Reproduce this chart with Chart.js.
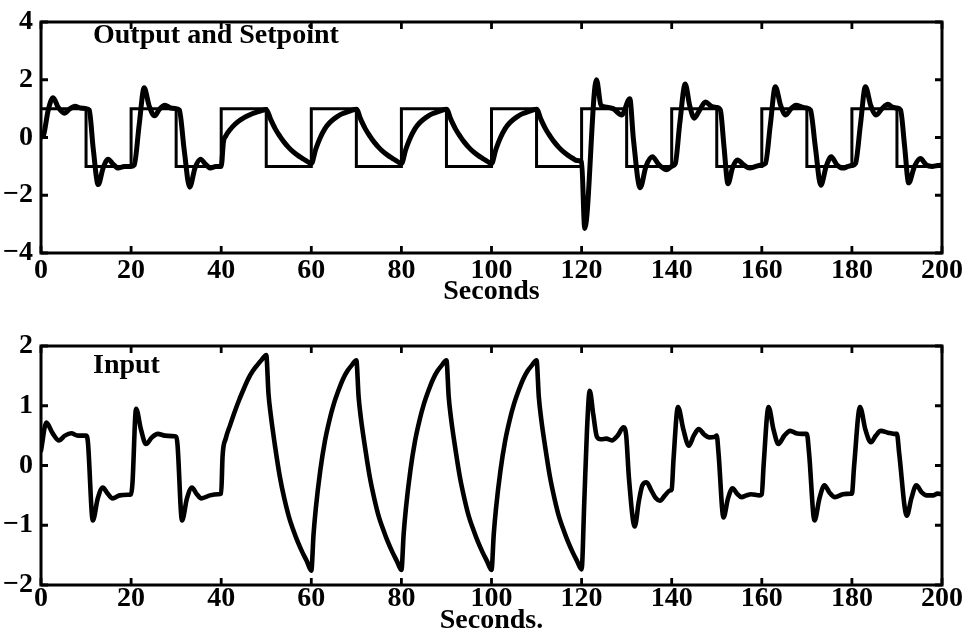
<!DOCTYPE html>
<html>
<head>
<meta charset="utf-8">
<script src="https://cdn.jsdelivr.net/npm/chart.js@4.4.1/dist/chart.umd.min.js"></script>
<style>
html,body{margin:0;padding:0;background:#fff;}
body{width:972px;height:635px;position:relative;overflow:hidden;}
canvas{position:absolute;left:0;}
#c1{top:0;}
#c2{top:320px;}
.lbl{position:absolute;font-family:"Liberation Serif","Times New Roman",serif;font-weight:bold;font-size:28px;line-height:28px;color:#000;white-space:nowrap;}
</style>
</head>
<body>
<canvas id="c1" width="972" height="320"></canvas>
<canvas id="c2" width="972" height="315"></canvas>
<div class="lbl" style="left:93px;top:20px;">Output and Setpoint</div>
<div class="lbl" style="left:93px;top:350px;">Input</div>
<script>
// ---------- tick labels / axis text ----------
const xTickValues = [0, 20, 40, 60, 80, 100, 120, 140, 160, 180, 200];
const yTicksTop = [-4, -2, 0, 2, 4];
const yTicksBottom = [-2, -1, 0, 1, 2];
const xTitleTop = 'Seconds';
const xTitleBottom = 'Seconds.';

// ---------- setpoint (square wave, value after each switching time) ----------
const setpointTime  = [0, 10, 20, 30, 40, 50, 60, 70, 80, 90, 100, 110, 120, 130, 140, 150, 160, 170, 180, 190, 200];
const setpointValue = [1, -1, 1, -1, 1, -1, 1, -1, 1, -1, 1, -1, 1, -1, 1, -1, 1, -1, 1, -1, -1];

// ---------- output ----------
const outputTime = [
  0, 0.6, 1.6, 2.7, 3.8, 5.2, 6.3, 7.5, 8.8, 10,
  10.7, 11.6, 12.7, 13.8, 14.9, 16, 17.1, 18.5, 20,
  20.7, 21.8, 22.9, 24, 25.2, 26.3, 27.5, 28.8, 30,
  30.7, 31.8, 33, 34.2, 35.4, 36.5, 37.6, 38.8, 40,
  40.5, 41, 42, 43, 44, 45, 46, 47, 48, 49, 50,
  51, 52, 53, 54, 55, 56, 57, 58, 59, 60,
  61, 62, 63, 64, 65, 66, 67, 68, 69, 70,
  71, 72, 73, 74, 75, 76, 77, 78, 79, 80,
  81, 82, 83, 84, 85, 86, 87, 88, 89, 90,
  91, 92, 93, 94, 95, 96, 97, 98, 99, 100,
  101, 102, 103, 104, 105, 106, 107, 108, 109, 110,
  111, 112, 113, 114, 115, 116, 117, 118, 119, 120,
  120.7, 123.3, 124.3, 125.5, 127, 128.9, 130.7, 131.5, 133, 134.3, 135.7, 137.2, 138.9, 140,
  140.8, 141.8, 143, 144, 145, 146.2, 147.5, 148.8, 150,
  150.8, 151.6, 152.5, 153.5, 154.6, 156, 157.3, 158.7, 160,
  160.8, 161.9, 163, 164.2, 165.3, 166.5, 167.6, 169, 170,
  170.8, 171.9, 173.1, 174.3, 175.4, 176.7, 178, 179.2, 180,
  180.8, 181.9, 183, 184.2, 185.4, 186.7, 188, 189, 190,
  190.8, 191.7, 192.6, 193.9, 195.2, 196.5, 197.8, 199, 200
];
const outputValue = [
  0, 0.1, 0.95, 1.38, 1.05, 0.84, 0.98, 1.08, 1.02, 1.0,
  0.95, -0.4, -1.63, -1.05, -0.75, -0.92, -1.06, -1.0, -1.0,
  -0.95, 0.45, 1.72, 1.1, 0.75, 0.98, 1.12, 1.02, 1.0,
  0.95, -0.45, -1.72, -1.05, -0.75, -0.92, -1.06, -1.0, -1.0,
  -0.15, 0.05, 0.28, 0.45, 0.58, 0.68, 0.76, 0.83, 0.89, 0.93, 0.97,
  0.62, 0.3, 0.05, -0.17, -0.35, -0.5, -0.62, -0.72, -0.82, -0.9,
  -0.4, 0.0, 0.3, 0.5, 0.64, 0.75, 0.83, 0.89, 0.94, 0.98,
  0.62, 0.3, 0.05, -0.17, -0.35, -0.5, -0.62, -0.72, -0.82, -0.9,
  -0.4, 0.0, 0.3, 0.5, 0.64, 0.75, 0.83, 0.89, 0.94, 0.98,
  0.62, 0.3, 0.05, -0.17, -0.35, -0.5, -0.62, -0.72, -0.82, -0.9,
  -0.4, 0.0, 0.3, 0.5, 0.64, 0.75, 0.83, 0.89, 0.94, 0.98,
  0.62, 0.3, 0.05, -0.17, -0.35, -0.5, -0.62, -0.72, -0.8, -0.85,
  -3.15, 2.0, 1.12, 1.05, 1.0, 0.78, 1.34, -0.05, -1.74, -1.0, -0.67, -0.95, -1.12, -1.0,
  -0.9, 0.5, 1.85, 1.1, 0.67, 0.95, 1.23, 1.08, 1.04,
  0.95, -0.3, -1.6, -1.05, -0.78, -0.95, -1.06, -1.0, -0.95,
  -0.9, 0.45, 1.76, 1.1, 0.78, 1.0, 1.12, 1.05, 1.02,
  0.95, -0.35, -1.65, -1.0, -0.67, -0.95, -1.06, -1.0, -0.97,
  -0.9, 0.45, 1.76, 1.1, 0.78, 1.0, 1.15, 1.05, 1.02,
  0.95, -0.3, -1.57, -1.0, -0.73, -0.95, -1.0, -0.97, -0.95
];

// ---------- input ----------
const inputTime = [
  0, 1.2, 2.5, 4, 5.3, 6.7, 8.2, 10,
  10.4, 11.5, 12.6, 13.7, 14.8, 15.9, 17.5, 19.3, 20,
  20.3, 21.1, 22.2, 23.3, 24.6, 25.9, 27.5, 29.6, 30,
  30.3, 31.3, 32.4, 33.5, 34.6, 35.6, 37.5, 39.3, 40,
  40.3, 41, 42, 43, 44, 45, 46, 47, 48, 49, 50,
  50.5, 51, 52, 53, 54, 55, 56, 57, 58, 59, 60,
  60.5, 61, 62, 63, 64, 65, 66, 67, 68, 69, 70,
  70.5, 71, 72, 73, 74, 75, 76, 77, 78, 79, 80,
  80.5, 81, 82, 83, 84, 85, 86, 87, 88, 89, 90,
  90.5, 91, 92, 93, 94, 95, 96, 97, 98, 99, 100,
  100.5, 101, 102, 103, 104, 105, 106, 107, 108, 109, 110,
  110.5, 111, 112, 113, 114, 115, 116, 117, 118, 119, 120,
  120.6, 121.2, 121.8, 122.6, 123.4, 124.3, 125.5, 126.7, 128, 129.3, 129.9,
  130.5, 131.8, 132.7, 133.5, 134.4, 135.5, 136.5, 137.4, 138.5, 139.6, 140,
  140.4, 141.4, 142.6, 143.8, 144.9, 146, 147.2, 148.3, 149.5, 150,
  150.4, 151.5, 152.5, 153.5, 154.5, 155.5, 156.6, 157.6, 159.5, 160,
  160.4, 161.5, 162.6, 163.7, 165, 166.3, 167.6, 169, 170,
  170.5, 171.7, 172.8, 173.9, 175, 176.2, 178, 179.8, 180,
  180.5, 181.8, 183, 184.2, 185.3, 186.4, 188, 189.3, 190,
  190.5, 192.2, 193.2, 194.3, 195.5, 196.6, 198, 199, 200
];
const inputValue = [
  0.25, 0.72, 0.55, 0.42, 0.5, 0.54, 0.5, 0.5,
  0.4, -0.92, -0.55, -0.37, -0.47, -0.55, -0.5, -0.49, -0.48,
  -0.3, 0.95, 0.6, 0.36, 0.47, 0.53, 0.5, 0.49, 0.48,
  0.35, -0.92, -0.55, -0.37, -0.48, -0.55, -0.5, -0.48, -0.47,
  0.15, 0.45, 0.68, 0.9, 1.1, 1.28, 1.45, 1.58, 1.68, 1.77, 1.85,
  1.2, 0.85, 0.3, -0.18, -0.55, -0.85, -1.08, -1.28, -1.45, -1.6, -1.76,
  -1.15, -0.72, -0.08, 0.4, 0.75, 1.03, 1.25, 1.44, 1.58, 1.68, 1.76,
  1.15, 0.8, 0.27, -0.2, -0.56, -0.86, -1.08, -1.28, -1.45, -1.6, -1.75,
  -1.15, -0.72, -0.08, 0.4, 0.75, 1.03, 1.25, 1.44, 1.58, 1.68, 1.76,
  1.15, 0.8, 0.27, -0.2, -0.56, -0.86, -1.08, -1.28, -1.45, -1.6, -1.75,
  -1.15, -0.72, -0.08, 0.4, 0.75, 1.03, 1.25, 1.44, 1.58, 1.68, 1.76,
  1.15, 0.8, 0.27, -0.2, -0.56, -0.86, -1.08, -1.28, -1.45, -1.6, -1.74,
  -0.6, 0.6, 1.25, 0.85, 0.48, 0.44, 0.45, 0.42, 0.5, 0.64, 0.5,
  -0.2, -1.02, -0.6, -0.33, -0.28, -0.42, -0.55, -0.59, -0.5, -0.42, -0.4,
  0.1, 0.98, 0.6, 0.33, 0.5, 0.61, 0.52, 0.47, 0.48, 0.5,
  0.2, -0.87, -0.55, -0.38, -0.47, -0.53, -0.5, -0.48, -0.5, -0.48,
  0.0, 0.98, 0.6, 0.36, 0.5, 0.58, 0.54, 0.53, 0.53,
  0.2, -0.92, -0.55, -0.33, -0.45, -0.53, -0.48, -0.47, -0.47,
  0.0, 0.98, 0.6, 0.39, 0.5, 0.58, 0.55, 0.53, 0.53,
  0.2, -0.84, -0.55, -0.33, -0.45, -0.5, -0.5, -0.47, -0.48
];

// ---------- helpers ----------
const zip = (t, v) => t.map((x, i) => ({x: x, y: v[i]}));
const FONT = {family: '"Liberation Serif","Times New Roman",serif', size: 28, weight: 'bold', lineHeight: 1};
const fmt = v => (v < 0 ? '\u2212' + (-v) : String(v));

const framePlugin = {
  id: 'frame',
  afterDatasetsDraw(chart) {
    const {ctx, chartArea: a, scales: {x, y}} = chart;
    ctx.save();
    ctx.strokeStyle = '#000';
    ctx.lineWidth = 3;
    ctx.strokeRect(a.left, a.top, a.right - a.left, a.bottom - a.top);
    ctx.lineWidth = 2.8;
    ctx.beginPath();
    const L = 7;
    x.ticks.forEach(t => {
      const p = x.getPixelForValue(t.value);
      ctx.moveTo(p, a.bottom); ctx.lineTo(p, a.bottom - L);
      ctx.moveTo(p, a.top); ctx.lineTo(p, a.top + L);
    });
    y.ticks.forEach(t => {
      const p = y.getPixelForValue(t.value);
      ctx.moveTo(a.left, p); ctx.lineTo(a.left + L, p);
      ctx.moveTo(a.right, p); ctx.lineTo(a.right - L, p);
    });
    ctx.stroke();
    ctx.restore();
  }
};

function build(id, H, padTop, chartBottom, datasets, yTicks, title, tickPad, titlePad) {
  return new Chart(document.getElementById(id), {
    type: 'line',
    data: {datasets: datasets},
    plugins: [framePlugin],
    options: {
      responsive: false,
      animation: false,
      devicePixelRatio: 1,
      events: [],
      layout: {padding: {top: padTop, right: 30, left: 0, bottom: 0}},
      plugins: {legend: {display: false}, tooltip: {enabled: false}},
      elements: {point: {radius: 0}},
      scales: {
        x: {
          type: 'linear', min: 0, max: 200,
          afterBuildTicks: s => { s.ticks = xTickValues.map(v => ({value: v})); },
          afterFit: s => { s.height = H - chartBottom; },
          grid: {display: false, drawTicks: false},
          border: {display: false},
          ticks: {font: FONT, color: '#000', padding: tickPad, maxRotation: 0, autoSkip: false},
          title: {display: true, text: title, font: FONT, color: '#000', padding: {top: 0, bottom: titlePad}}
        },
        y: {
          type: 'linear', min: yTicks[0], max: yTicks[yTicks.length - 1],
          afterBuildTicks: s => { s.ticks = yTicks.map(v => ({value: v})); },
          afterFit: s => { s.width = 41; },
          grid: {display: false, drawTicks: false},
          border: {display: false},
          ticks: {font: FONT, color: '#000', padding: 8, callback: v => fmt(v)}
        }
      }
    }
  });
}

build('c1', 320, 15, 253, [
  {data: zip(setpointTime, setpointValue), borderColor: '#000', borderWidth: 3, stepped: 'before', fill: false},
  {data: zip(outputTime, outputValue), borderColor: '#000', borderWidth: 5, cubicInterpolationMode: 'monotone',
   borderJoinStyle: 'round', borderCapStyle: 'round', fill: false}
], yTicksTop, xTitleTop, 4, 14);

build('c2', 315, 26, 265, [
  {data: zip(inputTime, inputValue), borderColor: '#000', borderWidth: 4.6, cubicInterpolationMode: 'monotone',
   borderJoinStyle: 'round', borderCapStyle: 'round', fill: false}
], yTicksBottom, xTitleBottom, 0, 0);
</script>
</body>
</html>
